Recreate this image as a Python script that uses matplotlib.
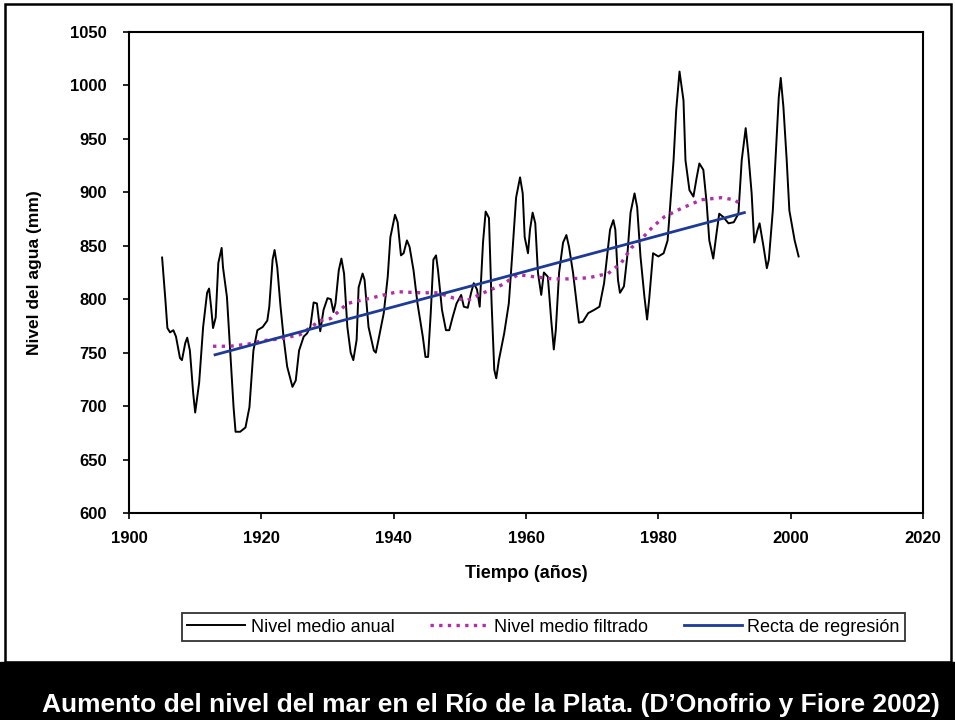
import matplotlib
matplotlib.use('Agg')
import matplotlib.pyplot as plt
from matplotlib.patches import Rectangle

# Nivel medio anual
anios = [1905.0, 1905.5, 1905.8, 1906.2, 1906.7, 1907.1, 1907.7, 1908.0, 1908.5, 1908.8,
         1909.2, 1909.7, 1910.0, 1910.6, 1911.2, 1911.8, 1912.1, 1912.4, 1912.7, 1913.1,
         1913.5, 1914.0, 1914.2, 1914.8, 1915.3, 1915.8, 1916.1, 1916.8, 1917.6, 1918.2,
         1918.8, 1919.4, 1920.2, 1920.9, 1921.2, 1921.7, 1922.0, 1922.4, 1922.9, 1923.4,
         1923.9, 1924.7, 1925.2, 1925.7, 1926.4, 1926.9, 1927.4, 1927.9, 1928.4, 1928.9,
         1929.4, 1930.0, 1930.5, 1930.9, 1931.2, 1931.7, 1932.1, 1932.5, 1933.0, 1933.5,
         1933.9, 1934.4, 1934.7, 1935.3, 1935.6, 1936.2, 1937.0, 1937.3, 1937.7, 1938.5,
         1939.1, 1939.5, 1940.2, 1940.6, 1941.1, 1941.5, 1942.0, 1942.4, 1943.0, 1943.6,
         1944.4, 1944.8, 1945.2, 1945.6, 1946.0, 1946.4, 1946.7, 1947.3, 1947.9, 1948.4,
         1948.9, 1949.5, 1950.2, 1950.6, 1951.2, 1951.7, 1952.1, 1952.6, 1953.0, 1953.5,
         1953.9, 1954.4, 1954.8, 1955.2, 1955.5, 1955.9, 1956.7, 1957.4, 1958.0, 1958.5,
         1959.1, 1959.5, 1959.8, 1960.3, 1960.6, 1961.0, 1961.4, 1961.8, 1962.3, 1962.7,
         1963.3, 1963.8, 1964.2, 1964.5, 1965.0, 1965.6, 1966.1, 1966.5, 1967.1, 1967.6,
         1968.0, 1968.6, 1969.4, 1970.3, 1971.1, 1971.8, 1972.3, 1972.7, 1973.2, 1973.5,
         1973.9, 1974.2, 1974.8, 1975.3, 1975.8, 1976.4, 1976.8, 1977.3, 1977.9, 1978.3,
         1978.6, 1979.2, 1980.0, 1980.8, 1981.4, 1981.7, 1982.3, 1982.7, 1983.2, 1983.8,
         1984.1, 1984.7, 1985.3, 1985.8, 1986.2, 1986.8, 1987.3, 1987.7, 1988.3, 1988.8,
         1989.2, 1989.8, 1990.6, 1991.4, 1992.1, 1992.6, 1993.2, 1993.6, 1994.1, 1994.5,
         1995.0, 1995.3, 1995.9, 1996.4, 1996.7, 1997.3, 1997.7, 1998.2, 1998.5, 1998.9,
         1999.4, 1999.8, 2000.6, 2001.2]
nivel = [839, 799, 773, 769, 771, 765, 745, 743, 759, 764,
         752, 712, 694, 722, 774, 806, 810, 793, 773, 783,
         834, 848, 830, 802, 750, 699, 676, 676, 680, 699,
         752, 771, 774, 780, 793, 837, 846, 830, 793, 762,
         737, 718, 724, 752, 765, 768, 774, 797, 796, 770,
         790, 801, 800, 788, 796, 827, 838, 824, 774, 750,
         743, 762, 811, 824, 818, 774, 752, 750, 762, 787,
         821, 858, 879, 872, 841, 843, 855, 849, 827, 796,
         765, 746, 746, 787, 837, 841, 827, 790, 771, 771,
         783, 796, 804, 793, 792, 806, 815, 809, 793, 853,
         882, 876, 796, 734, 726, 743, 768, 796, 849, 895,
         914, 899, 858, 843, 865, 881, 871, 825, 804, 825,
         821, 781, 753, 771, 825, 853, 860, 849, 825, 799,
         778, 779, 787, 790, 793, 815, 843, 865, 874, 865,
         818, 806, 812, 840, 881, 899, 886, 840, 802, 781,
         799, 843, 840, 843, 855, 880, 930, 977, 1013, 986,
         930, 902, 896, 914, 927, 921, 890, 855, 838, 862,
         880, 877, 871, 872, 880, 930, 960, 936, 899, 853,
         865, 871, 849, 829, 837, 883, 930, 989, 1007, 980,
         930, 883, 855, 840]

# Nivel medio filtrado
anios_filt = [1912.7, 1915.3, 1918.0, 1920.0, 1923.0, 1925.9, 1928.9, 1930.5, 1933.0,
              1936.5, 1940.6, 1944.1, 1946.7, 1949.1, 1951.2, 1953.2, 1956.2, 1958.8,
              1961.2, 1964.0, 1966.4, 1969.4, 1972.4, 1974.4, 1975.9, 1977.4, 1979.2,
              1980.9, 1983.5, 1986.5, 1989.5, 1991.5, 1992.6]
nivel_filt = [756, 756, 758, 761, 763, 767, 780, 782, 796,
              801, 807, 806, 806, 801, 799, 805, 813, 823,
              821, 819, 819, 820, 824, 834, 848, 856, 868,
              877, 885, 893, 895, 893, 888]

# Recta de regresion (extremos)
anios_reg = [1913, 1993]
nivel_reg = [748, 881]

xticks = [1900, 1920, 1940, 1960, 1980, 2000, 2020]
yticks = [600, 650, 700, 750, 800, 850, 900, 950, 1000, 1050]

fig = plt.figure(figsize=(9.55, 7.2), dpi=100)
fig.patch.set_facecolor('white')

ax = fig.add_axes([0.1351, 0.2875, 0.8314, 0.6681])
ax.plot(anios, nivel, color='black', linewidth=1.4, label='Nivel medio anual')
ax.plot(anios_filt, nivel_filt, color='#b42ca8', linestyle=(0, (1, 1.6)),
        linewidth=2.4, label='Nivel medio filtrado')
ax.plot(anios_reg, nivel_reg, color='#1c3a98', linewidth=2.0, label='Recta de regresión')

ax.set_xlim(1900, 2020)
ax.set_ylim(600, 1050)
ax.set_xticks(xticks)
ax.set_yticks(yticks)
ax.tick_params(direction='out', length=4, width=1.2)
ax.tick_params(axis='y', pad=12)
ax.tick_params(axis='x', pad=9)
for label in ax.get_xticklabels() + ax.get_yticklabels():
    label.set_fontsize(12)
    label.set_fontweight('bold')
    label.set_family('Liberation Sans')
for sp in ax.spines.values():
    sp.set_linewidth(1.5)

ax.set_xlabel('Tiempo (años)', fontsize=13, fontweight='bold', family='Liberation Sans', labelpad=14)
ax.set_ylabel('Nivel del agua (mm)', fontsize=12.5, fontweight='bold', family='Liberation Sans', labelpad=20)

leg = fig.legend(loc='center', bbox_to_anchor=(0.569, 0.129), ncol=3, frameon=True,
                 fancybox=False, edgecolor='black', handlelength=3.2,
                 columnspacing=2.0, handletextpad=0.3, borderpad=0.3,
                 prop={'family': 'Liberation Sans', 'size': 13})
leg.get_frame().set_linewidth(1.3)

# marco exterior y banda negra del titulo
fig.patches.append(Rectangle((0.005, 0.0806), 0.991, 0.914, transform=fig.transFigure,
                             fill=False, edgecolor='black', linewidth=1.8))
fig.patches.append(Rectangle((0, 0), 1, 0.0806, transform=fig.transFigure,
                             facecolor='black', edgecolor='black'))
fig.text(0.514, 0.021, 'Aumento del nivel del mar en el Río de la Plata. (D\u2019Onofrio y Fiore 2002)',
         color='white', fontsize=19, fontweight='bold', ha='center', va='center',
         family=['Liberation Sans Narrow', 'Liberation Sans'])

fig.savefig('out.png', dpi=100)
